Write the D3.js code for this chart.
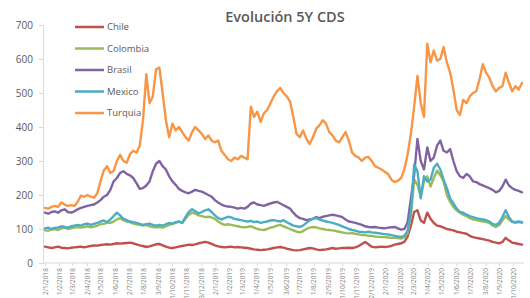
<!DOCTYPE html>
<html>
<head>
<meta charset="utf-8">
<script src="https://cdnjs.cloudflare.com/ajax/libs/d3/7.8.5/d3.min.js"></script>
<style>
  body { margin: 0; background: #fff; }
  svg { display: block; font-family: "Open Sans", "Noto Sans", sans-serif; }
</style>
</head>
<body>
<div id="chart"></div>
<script>
// weekly observations, first one on 2 Jan 2018
var startDate = "2018-01-02";

var chile = [48,46,44,46,48,45,44,43,45,46, 47,48,46,48,50,52,51,53,54,55,
  54,56,58,57,58,59,60,58,55,52, 50,47,49,52,55,56,52,48,45,44,
  46,48,50,52,54,53,55,58,60,62, 60,56,52,49,47,46,47,48,46,47,
  46,45,44,42,40,39,38,39,40,42, 44,46,47,45,42,40,38,37,38,40,
  42,44,43,40,38,39,40,42,44,42, 43,44,44,45,44,46,50,56,62,55,
  48,46,47,48,47,48,50,54,56,58, 62,78,110,150,155,125,118,148,130,118,
  110,108,104,100,98,96,92,90,88,86, 80,76,74,72,70,68,66,62,60,58,
  62,74,66,60,58,56,54];

var colombia = [96,95,98,100,97,102,104,100,102,104, 106,104,106,108,105,107,110,114,115,118,
  118,122,128,132,126,122,120,116,114,112, 110,112,108,106,105,106,104,108,112,115,
  118,122,118,130,142,148,145,140,138,135, 136,134,130,122,116,112,114,112,110,108,
  106,105,106,108,104,100,98,97,100,104, 106,110,112,108,104,100,96,92,90,94,
  100,104,106,105,102,100,98,97,96,94, 92,90,88,87,88,86,84,82,82,80,
  80,78,77,76,76,75,74,74,73,72, 76,88,140,245,230,195,240,255,225,250,
  272,258,240,200,180,165,155,148,142,138, 132,128,126,124,122,120,118,110,106,112,
  125,138,128,120,118,120,118];

var brasil = [148,145,150,152,148,155,158,150,148,152, 158,162,165,168,170,172,178,185,195,200,
  215,240,250,265,270,262,258,250,235,218, 220,228,240,270,292,300,285,275,255,240,
  230,218,212,208,205,210,215,212,210,205, 200,195,185,178,172,168,166,165,163,160,
  162,160,165,175,178,172,170,168,172,175, 178,180,175,170,165,160,148,138,132,130,
  126,128,130,135,132,136,138,140,142,140, 138,135,128,122,120,118,115,112,108,106,
  105,106,104,103,102,104,105,106,102,98, 100,120,190,260,365,300,275,340,300,310,
  345,360,330,325,335,300,270,255,250,262, 255,240,238,232,228,224,220,215,208,212,
  225,245,228,220,215,212,208];

var mexico = [102,104,100,103,105,108,106,104,108,110, 112,110,114,116,112,115,118,122,125,120,
  128,138,148,140,130,126,122,120,118,115, 112,114,116,112,110,112,110,114,118,116,
  120,122,118,135,150,158,152,146,150,155, 158,150,140,132,128,132,136,134,130,128,
  126,124,122,124,120,122,118,120,122,125, 126,124,122,126,120,115,110,108,106,110,
  118,125,130,132,128,125,122,120,118,115, 112,108,104,100,97,95,92,91,90,92,
  90,89,88,86,85,84,82,80,78,77, 80,95,150,290,270,190,255,240,245,280,
  292,275,245,220,190,175,160,150,148,142, 138,135,132,130,128,126,122,115,112,118,
  135,155,135,122,120,122,120];

var turquia = [162,160,165,168,165,178,172,168,170,168, 180,198,195,200,195,192,205,240,272,285,
  265,270,300,318,300,295,320,330,325,345, 420,555,470,490,570,575,500,420,370,410,
  390,400,385,370,360,385,400,390,380,365, 375,360,355,360,330,318,305,300,310,305,
  315,310,305,460,430,445,415,440,450,470, 490,505,515,500,490,475,430,380,370,390,
  365,350,370,395,405,420,410,385,375,360, 355,370,385,360,325,315,310,300,310,312,
  300,285,280,275,268,262,245,238,242,250, 275,320,380,460,550,470,430,645,590,625,
  595,600,635,590,560,510,450,435,480,470, 490,500,505,540,585,560,545,520,505,515,
  520,560,530,505,520,510,530];

var seriesNames = ["Chile", "Colombia", "Brasil", "Mexico", "Turquia"];
var seriesColors = ["#C0504D", "#9BBB59", "#8064A2", "#4BACC6", "#F79646"];

var yTicks = [0, 100, 200, 300, 400, 500, 600, 700];

var tickLabels = ["2/1/2018","1/2/2018","1/3/2018","2/4/2018","1/5/2018","1/6/2018",
  "2/7/2018","1/8/2018","3/9/2018","1/10/2018","1/11/2018","3/12/2018",
  "2/1/2019","1/2/2019","1/3/2019","1/4/2019","1/5/2019","3/6/2019",
  "1/7/2019","1/8/2019","2/9/2019","1/10/2019","1/11/2019","2/12/2019",
  "2/1/2020","3/2/2020","2/3/2020","1/4/2020","1/5/2020","1/6/2020",
  "1/7/2020","3/8/2020","1/9/2020","1/10/2020"];

var W = 530, H = 298;
var plotTop = 25, plotBottom = 263, plotLeft = 43, plotRight = 524;

var svg = d3.select("#chart").append("svg")
  .attr("width", W)
  .attr("height", H);

var t0 = d3.timeParse("%Y-%m-%d")(startDate);
var parseTick = d3.timeParse("%d/%m/%Y");

var allSeries = [chile, colombia, brasil, mexico, turquia].map(function(vals, k){
  return {
    name: seriesNames[k],
    color: seriesColors[k],
    values: vals.map(function(v, i){ return {date: d3.timeWeek.offset(t0, i), value: v}; })
  };
});

var lastDate = d3.timeWeek.offset(t0, turquia.length - 1);

var x = d3.scaleTime()
  .domain([t0, lastDate])
  .range([45, 522]);

var y = d3.scaleLinear()
  .domain([0, 700])
  .range([plotBottom, plotTop]);

// title
svg.append("text")
  .attr("x", 285)
  .attr("y", 22)
  .attr("text-anchor", "middle")
  .attr("font-size", "14.5px")
  .attr("font-weight", 600)
  .attr("fill", "#595959")
  .text("Evolución 5Y CDS");

// y axis
var yAxis = svg.append("g")
  .attr("transform", "translate(" + plotLeft + ",0)")
  .call(d3.axisLeft(y).tickValues(yTicks).tickSize(4).tickPadding(6));
yAxis.select(".domain").attr("stroke", "#d9d9d9");
yAxis.selectAll(".tick line").attr("stroke", "#d9d9d9");
yAxis.selectAll(".tick text")
  .attr("fill", "#595959")
  .attr("font-size", "10px")
  .attr("font-family", "Open Sans, sans-serif");

// x axis
var xAxis = svg.append("g")
  .attr("transform", "translate(0," + plotBottom + ")")
  .call(d3.axisBottom(x)
    .tickValues(tickLabels.map(parseTick))
    .tickFormat(function(d, i){ return tickLabels[i]; })
    .tickSize(3)
    .tickSizeOuter(0));
xAxis.select(".domain")
  .attr("stroke", "#d9d9d9")
  .attr("d", "M" + plotLeft + ",0H" + plotRight);
xAxis.selectAll(".tick line").attr("stroke", "#d9d9d9");
xAxis.selectAll(".tick text")
  .attr("fill", "#7f7f7f")
  .attr("font-size", "6.5px")
  .attr("font-family", "Open Sans, sans-serif")
  .attr("text-anchor", "end")
  .attr("transform", "rotate(-90)")
  .attr("x", -5)
  .attr("y", 0)
  .attr("dy", "0.32em");

// lines
var line = d3.line()
  .x(function(d){ return x(d.date); })
  .y(function(d){ return y(d.value); });

svg.selectAll(".series")
  .data(allSeries)
  .enter()
  .append("path")
  .attr("class", "series")
  .attr("d", function(d){ return line(d.values); })
  .attr("fill", "none")
  .attr("stroke", function(d){ return d.color; })
  .attr("stroke-width", 2.4)
  .attr("stroke-linejoin", "round")
  .attr("stroke-linecap", "round");

// legend
var legend = svg.selectAll(".legend")
  .data(allSeries)
  .enter()
  .append("g")
  .attr("class", "legend")
  .attr("transform", function(d, i){ return "translate(75," + (27 + i * 21.5) + ")"; });

legend.append("line")
  .attr("x1", 0)
  .attr("x2", 29)
  .attr("stroke", function(d){ return d.color; })
  .attr("stroke-width", 2.5);

legend.append("text")
  .attr("x", 32)
  .attr("dy", "0.35em")
  .attr("font-size", "9.5px")
  .attr("fill", "#595959")
  .text(function(d){ return d.name; });
</script>
</body>
</html>
